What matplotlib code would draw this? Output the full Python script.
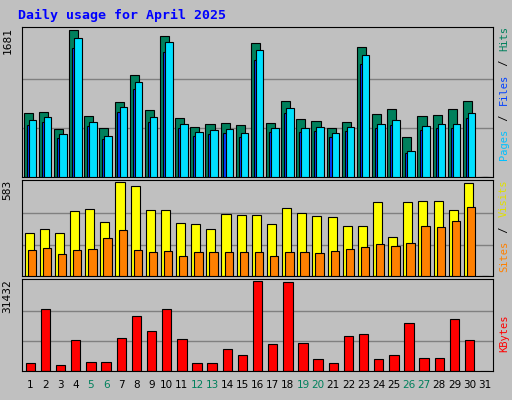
import matplotlib
matplotlib.use("Agg")
import matplotlib.pyplot as plt
import numpy as np

# daily stats, April 2025 (day 31 empty)
days = list(range(1, 32))
hits = [730, 742, 545, 1681, 695, 556, 858, 1171, 765, 1611, 672, 568, 603, 614, 591,
        1530, 614, 869, 661, 637, 556, 626, 1484, 719, 777, 452, 695, 707, 777, 869, 0]
files = [649, 684, 487, 1588, 626, 464, 800, 1089, 684, 1541, 603, 510, 533, 545, 498,
         1449, 556, 788, 556, 568, 498, 568, 1391, 603, 649, 301, 580, 603, 603, 730, 0]
pages = [600, 630, 450, 1480, 580, 430, 740, 1010, 630, 1430, 560, 470, 495, 505, 460,
         1340, 515, 730, 515, 525, 460, 525, 1290, 560, 600, 280, 535, 560, 560, 675, 0]
visits = [266, 292, 266, 402, 415, 337, 583, 557, 408, 408, 330, 324, 292, 382, 376,
          376, 324, 421, 389, 369, 363, 311, 311, 460, 240, 460, 466, 466, 408, 577, 0]
sites = [162, 175, 136, 162, 168, 233, 285, 162, 149, 155, 123, 149, 149, 149, 149,
         149, 123, 149, 149, 143, 155, 168, 181, 201, 188, 207, 311, 304, 343, 428, 0]
kbytes = [2858, 21432, 2143, 10716, 3215, 3215, 11430, 19289, 13931, 21432, 11073, 2858,
          2858, 7501, 5715, 31432, 9287, 31076, 9644, 4286, 2858, 12145, 12859, 4286,
          5715, 16788, 4644, 4644, 18217, 10716, 0]
weekends = [5, 6, 12, 13, 19, 20, 26, 27]

bg = "#c0c0c0"
fig = plt.figure(figsize=(5.12, 4.0), dpi=100, facecolor=bg)
x = np.array(days)

def setup(ax, top, label):
    ax.set_facecolor(bg)
    ax.set_xlim(0.45, 31.55)
    ax.set_ylim(0, top * 1.02)
    ax.set_xticks([])
    ax.set_yticks([])
    for t in (top / 3, 2 * top / 3):
        ax.axhline(t, color="#808080", lw=1, zorder=0)
    for s in ax.spines.values():
        s.set_color("black")
    ax.text(-0.02, 1.0, label, transform=ax.transAxes, rotation=90, ha="right", va="top",
            family="DejaVu Sans Mono", fontsize=8)

ax1 = fig.add_axes([0.043, 0.5575, 0.92, 0.375])
setup(ax1, 1681, "1681")
ax1.bar(x - 0.14, hits, width=0.6, color="#00805c", edgecolor="black", lw=0.8, zorder=2)
ax1.bar(x + 0.0, pages, width=0.5, color="#0040ff", edgecolor="black", lw=0.8, zorder=3)
ax1.bar(x + 0.14, files, width=0.5, color="#00e0ff", edgecolor="black", lw=0.8, zorder=4)

ax2 = fig.add_axes([0.043, 0.31, 0.92, 0.24])
setup(ax2, 583, "583")
ax2.bar(x - 0.08, visits, width=0.6, color="#ffff00", edgecolor="black", lw=0.8, zorder=2)
ax2.bar(x + 0.1, sites, width=0.55, color="#ff8000", edgecolor="black", lw=0.8, zorder=3)

ax3 = fig.add_axes([0.043, 0.0725, 0.92, 0.23])
setup(ax3, 31432, "31432")
ax3.bar(x, kbytes, width=0.62, color="#ff0000", edgecolor="black", lw=0.8, zorder=2)

for d in days:
    ax3.text(d, -0.1, str(d), transform=ax3.get_xaxis_transform(), ha="center", va="top",
             family="DejaVu Sans", fontsize=7.5,
             color="#00805c" if d in weekends else "black")

fig.text(0.035, 0.978, "Daily usage for April 2025", color="#0000ff", fontsize=9.5,
         family="DejaVu Sans Mono", weight="bold", va="top")

def side(parts, ytop, step=0.0158):
    y = ytop
    for txt, col in parts:
        fig.text(0.984, y, txt, color=col, rotation=90, ha="center", va="top",
                 family="DejaVu Sans Mono", fontsize=7.5)
        y -= len(txt) * step

side([("Hits", "#00805c"), (" / ", "black"), ("Files", "#0040ff"), (" / ", "black"),
      ("Pages", "#00c0ff")], 0.935, 0.0172)
side([("Visits", "#e0e000"), (" / ", "black"), ("Sites", "#ff8000")], 0.552, 0.0172)
side([("KBytes", "#ff0000")], 0.215)

fig.savefig("out.png", dpi=100, facecolor=bg)
